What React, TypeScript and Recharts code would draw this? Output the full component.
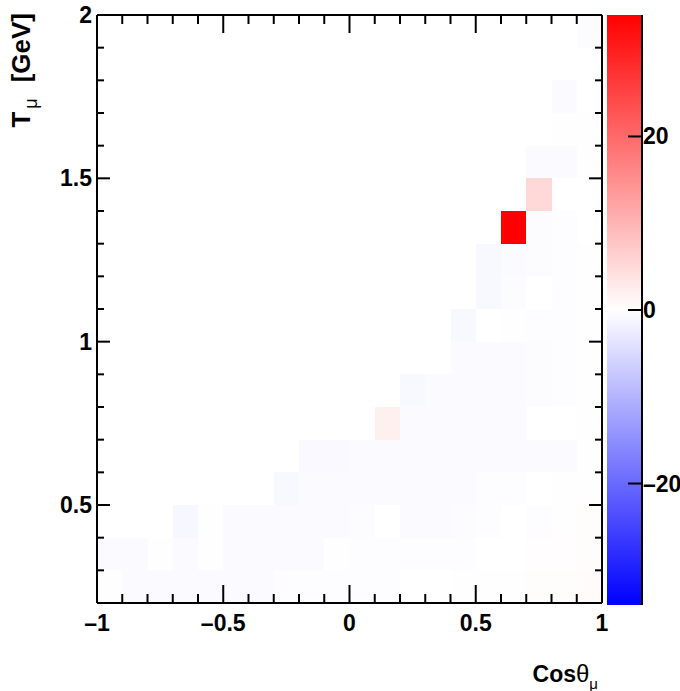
import { ScatterChart, BarChart, Bar, XAxis, YAxis, ReferenceArea } from "recharts";

const FONT = "'Liberation Sans', Arial, Helvetica, sans-serif";
const N = null;

// bin edges
const COS_EDGES = [-1, -0.9, -0.8, -0.7, -0.6, -0.5, -0.4, -0.3, -0.2, -0.1, 0, 0.1, 0.2, 0.3, 0.4, 0.5, 0.6, 0.7, 0.8, 0.9, 1];
const T_EDGES = [0.2, 0.3, 0.4, 0.5, 0.6, 0.7, 0.8, 0.9, 1, 1.1, 1.2, 1.3, 1.4, 1.5, 1.6, 1.7, 1.8, 1.9, 2];

// labelled (major) ticks
const COS_MAJOR = [-1, -0.5, 0, 0.5, 1];
const T_MAJOR = [0.5, 1, 1.5, 2];

// palette range and labels
const Z_MIN = -34;
const Z_MAX = 34;
const Z_TICKS = [-20, 0, 20];

// bin contents, one row per T bin (low edge in name), one entry per cos bin; N = empty bin
const ROW_T020 = [-0.2, -0.6, -0.6, -0.6, -0.6, -0.6, -0.6, -0.3, -0.3, -0.3, -0.3, -0.3, 0, 0, 0.15, 0.15, 0.15, 0.4, 0.4, 0.5];
const ROW_T030 = [-0.7, -0.7, -0.1, -0.6, -0.1, -0.6, -0.6, -0.6, -0.6, -0.2, -0.3, -0.3, -0.3, -0.3, -0.3, 0, 0, 0.3, 0.3, 0.4];
const ROW_T040 = [N, N, N, -1.1, 0.2, -0.6, -0.6, -0.5, -0.5, -0.5, -0.4, 0, -0.5, -0.5, -0.4, -0.3, 0, -0.3, -0.1, 0.4];
const ROW_T050 = [N, N, N, N, N, N, N, -1.0, -0.5, -0.5, -0.5, -0.5, -0.5, -0.5, -0.5, -0.3, -0.3, 0, -0.1, 0.2];
const ROW_T060 = [N, N, N, N, N, N, N, N, -0.8, -0.8, -0.5, -0.5, -0.5, -0.5, -0.5, -0.5, -0.5, -0.5, -0.5, -0.2];
const ROW_T070 = [N, N, N, N, N, N, N, N, N, N, N, 2, -0.5, -0.5, -0.5, -0.5, -0.5, 0, 0, -0.1];
const ROW_T080 = [N, N, N, N, N, N, N, N, N, N, N, N, -0.9, -0.6, -0.5, -0.5, -0.5, -0.4, -0.3, -0.1];
const ROW_T090 = [N, N, N, N, N, N, N, N, N, N, N, N, N, N, -0.6, -0.5, -0.5, -0.4, -0.3, -0.1];
const ROW_T100 = [N, N, N, N, N, N, N, N, N, N, N, N, N, N, -1.0, 0, -0.2, -0.3, -0.3, 0.1];
const ROW_T110 = [N, N, N, N, N, N, N, N, N, N, N, N, N, N, N, -0.9, -0.4, 0, -0.3, -0.1];
const ROW_T120 = [N, N, N, N, N, N, N, N, N, N, N, N, N, N, N, -0.9, -0.5, -0.4, -0.3, -0.1];
const ROW_T130 = [N, N, N, N, N, N, N, N, N, N, N, N, N, N, N, N, 34, -0.4, -0.3, 0];
const ROW_T140 = [N, N, N, N, N, N, N, N, N, N, N, N, N, N, N, N, N, 5.2, 0, 0];
const ROW_T150 = [N, N, N, N, N, N, N, N, N, N, N, N, N, N, N, N, N, -0.5, -0.5, -0.2];
const ROW_T160 = [N, N, N, N, N, N, N, N, N, N, N, N, N, N, N, N, N, N, -0.2, -0.2];
const ROW_T170 = [N, N, N, N, N, N, N, N, N, N, N, N, N, N, N, N, N, N, -0.6, N];
const ROW_T180 = [N, N, N, N, N, N, N, N, N, N, N, N, N, N, N, N, N, N, N, N];
const ROW_T190 = [N, N, N, N, N, N, N, N, N, N, N, N, N, N, N, N, N, N, N, -0.4];

const ROWS = [
  ROW_T020, ROW_T030, ROW_T040, ROW_T050, ROW_T060, ROW_T070, ROW_T080, ROW_T090, ROW_T100,
  ROW_T110, ROW_T120, ROW_T130, ROW_T140, ROW_T150, ROW_T160, ROW_T170, ROW_T180, ROW_T190,
];

// blue - white - red palette
function zColor(v: number) {
  const t = Math.max(-1, Math.min(1, v / Z_MAX));
  const c = Math.round(255 * (1 - Math.abs(t)));
  return t >= 0 ? `rgb(255,${c},${c})` : `rgb(${c},${c},255)`;
}

const isMajor = (v: number, list: number[]) => list.some((m) => Math.abs(m - v) < 1e-6);
const fmt = (v: number) => (v < 0 ? `\u2013${Math.abs(v)}` : String(v));

const cells: { x1: number; x2: number; y1: number; y2: number; v: number }[] = [];
ROWS.forEach((row, j) => {
  row.forEach((v, i) => {
    if (v === null) return;
    cells.push({ x1: COS_EDGES[i], x2: COS_EDGES[i + 1], y1: T_EDGES[j], y2: T_EDGES[j + 1], v });
  });
});

const axisLine = { stroke: "#000", strokeWidth: 2 };
const labelStyle = { fontFamily: FONT, fontSize: 23, fontWeight: "bold" as const, fill: "#000" };

const BottomTick = (p: any) => {
  const major = isMajor(p.payload.value, COS_MAJOR);
  return (
    <g>
      <line x1={p.x} x2={p.x} y1={p.y} y2={p.y - (major ? 18 : 9)} stroke="#000" strokeWidth={2} />
      {major && (
        <text x={p.x} y={p.y + 28} textAnchor="middle" {...labelStyle}>
          {fmt(p.payload.value)}
        </text>
      )}
    </g>
  );
};

const TopTick = (p: any) => {
  const major = isMajor(p.payload.value, COS_MAJOR);
  return <line x1={p.x} x2={p.x} y1={p.y} y2={p.y + (major ? 18 : 9)} stroke="#000" strokeWidth={2} />;
};

const LeftTick = (p: any) => {
  const major = isMajor(p.payload.value, T_MAJOR);
  return (
    <g>
      <line x1={p.x} x2={p.x + (major ? 13 : 7)} y1={p.y} y2={p.y} stroke="#000" strokeWidth={2} />
      {major && (
        <text x={p.x - 5} y={p.y + 8} textAnchor="end" {...labelStyle}>
          {fmt(p.payload.value)}
        </text>
      )}
    </g>
  );
};

const RightTick = (p: any) => {
  const major = isMajor(p.payload.value, T_MAJOR);
  return <line x1={p.x} x2={p.x - (major ? 13 : 7)} y1={p.y} y2={p.y} stroke="#000" strokeWidth={2} />;
};

const PaletteTick = (p: any) => (
  <g>
    <line x1={p.x} x2={p.x - 14} y1={p.y} y2={p.y} stroke="#000" strokeWidth={2} />
    <text x={p.x + 1} y={p.y + 8} textAnchor="start" {...labelStyle}>
      {fmt(p.payload.value)}
    </text>
  </g>
);

const paletteData = [{ k: "z", span: [Z_MIN, Z_MAX] }];

// axes get a 1px band (recharts skips zero-sized axes)
export default function App() {
  return (
    <div style={{ position: "absolute", left: 0, top: 0, width: 680, height: 691, background: "#fff" }}>
      <div style={{ position: "absolute", left: 0, top: 0 }}>
        <ScatterChart width={680} height={691} margin={{ top: 14, right: 77, bottom: 87, left: 96 }}>
          {cells.map((c, k) => (
            <ReferenceArea
              key={k}
              xAxisId="b"
              yAxisId="l"
              x1={c.x1}
              x2={c.x2}
              y1={c.y1}
              y2={c.y2}
              fill={zColor(c.v)}
              fillOpacity={1}
              stroke="none"
              shape={(s: any) => (
                <rect x={s.x} y={s.y} width={s.width} height={s.height} fill={zColor(c.v)} shapeRendering="crispEdges" />
              )}
            />
          ))}
          <XAxis xAxisId="b" type="number" dataKey="x" domain={[-1, 1]} ticks={COS_EDGES} interval={0}
            orientation="bottom" height={1} tickSize={0} tickMargin={0} tickLine={false} tick={BottomTick}
            axisLine={axisLine} allowDataOverflow />
          <XAxis xAxisId="t" type="number" dataKey="x" domain={[-1, 1]} ticks={COS_EDGES} interval={0}
            orientation="top" height={1} tickSize={0} tickMargin={0} tickLine={false} tick={TopTick}
            axisLine={axisLine} allowDataOverflow />
          <YAxis yAxisId="l" type="number" dataKey="y" domain={[0.2, 2]} ticks={T_EDGES} interval={0}
            orientation="left" width={1} tickSize={0} tickMargin={0} tickLine={false} tick={LeftTick}
            axisLine={axisLine} allowDataOverflow />
          <YAxis yAxisId="r" type="number" dataKey="y" domain={[0.2, 2]} ticks={T_EDGES} interval={0}
            orientation="right" width={1} tickSize={0} tickMargin={0} tickLine={false} tick={RightTick}
            axisLine={axisLine} allowDataOverflow />
        </ScatterChart>
      </div>

      {/* colour palette */}
      <div style={{ position: "absolute", left: 600, top: 0 }}>
        <BarChart width={80} height={691} data={paletteData} margin={{ top: 15, right: 37, bottom: 86, left: 7 }}
          barCategoryGap={0}>
          <defs>
            <linearGradient id="zgrad" x1="0" y1="0" x2="0" y2="1">
              <stop offset="0" stopColor={zColor(Z_MAX)} />
              <stop offset="0.5" stopColor={zColor(0)} />
              <stop offset="1" stopColor={zColor(Z_MIN)} />
            </linearGradient>
          </defs>
          <XAxis dataKey="k" hide />
          <YAxis type="number" domain={[Z_MIN, Z_MAX]} ticks={Z_TICKS} interval={0} orientation="right" width={1}
            tickSize={0} tickMargin={0} tickLine={false} tick={PaletteTick} axisLine={axisLine} allowDataOverflow />
          <Bar dataKey="span" fill="url(#zgrad)" isAnimationActive={false} />
        </BarChart>
      </div>

      {/* axis titles */}
      <svg width={680} height={691} style={{ position: "absolute", left: 0, top: 0, pointerEvents: "none" }}>
        <text x={598} y={682} textAnchor="end" fontFamily={FONT} fontSize={23} fontWeight="bold">
          Cos
          <tspan fontWeight="normal" fontSize={24}>θ</tspan>
          <tspan fontWeight="normal" fontSize={15} dy={7}>μ</tspan>
        </text>
        <text x={30} y={13} transform="rotate(-90 30 13)" textAnchor="end" fontFamily={FONT} fontSize={26}
          fontWeight="bold">
          T<tspan fontWeight="normal" fontSize={18} dx={3} dy={7}>μ</tspan>
          <tspan dx={16} dy={-7}>[GeV]</tspan>
        </text>
      </svg>
    </div>
  );
}
